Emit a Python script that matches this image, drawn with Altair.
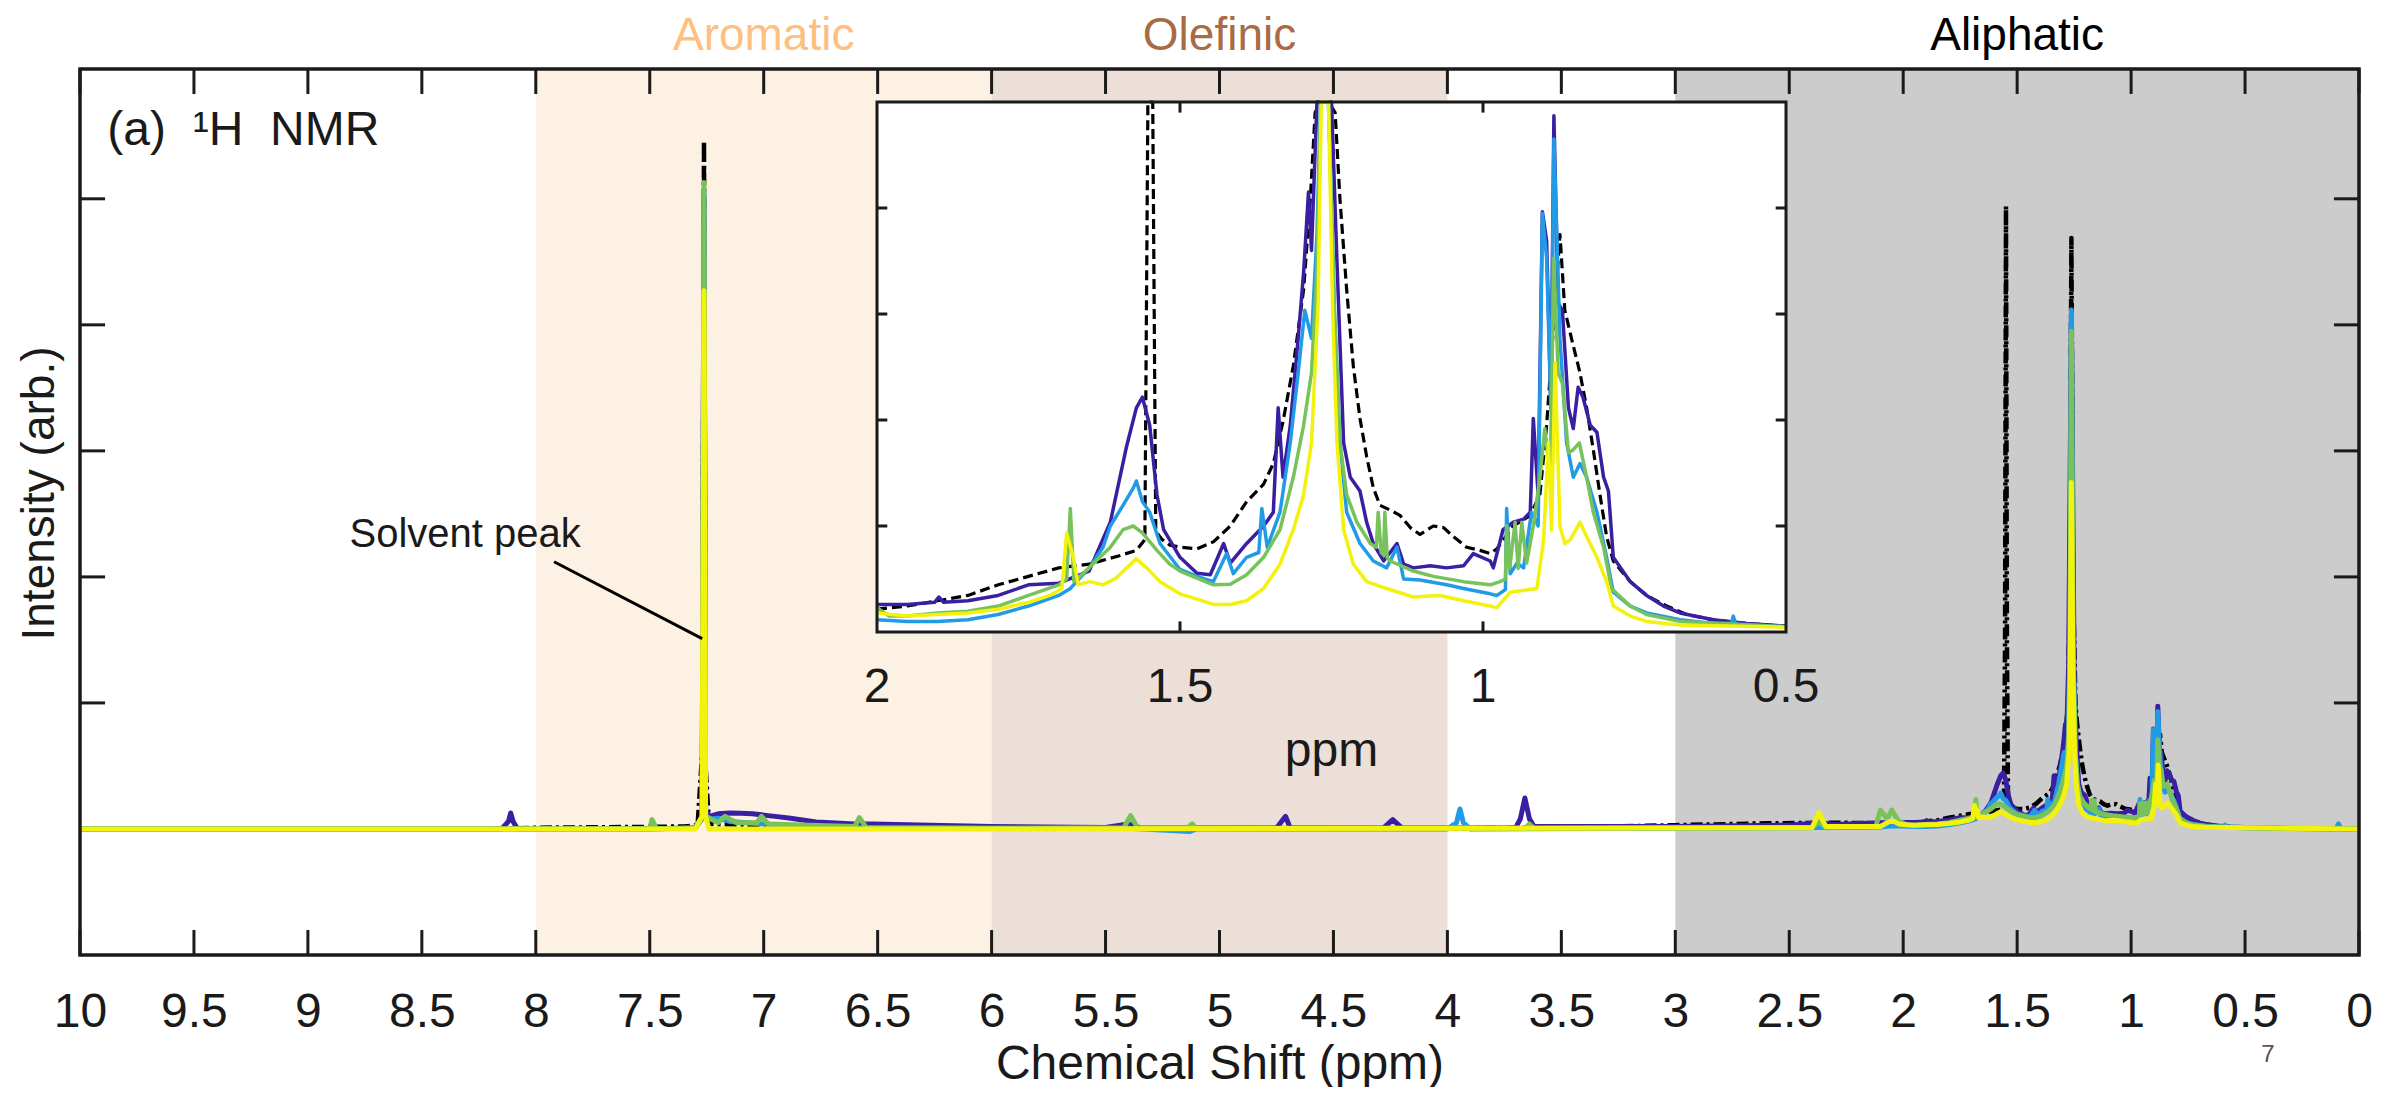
import altair as alt
import pandas as pd

FONT = "Liberation Sans"

# ---------------- data (ppm, intensity) ----------------
SERIES_NAMES = ["black", "purple", "blue", "green", "yellow"]
SERIES_COLORS = ["#000000", "#3B1FA3", "#229BE6", "#77C25A", "#F2F20C"]

BLACK = [(10.0,0.0),(8.2,0.0),(8.0,0.01),(7.6,0.015),(7.35,0.02),(7.29,0.03),(7.27,0.6),(7.262,5.46),(7.255,0.5),
 (7.24,0.04),(7.0,0.03),(6.5,0.01),(6.0,0.005),(5.0,0.003),(4.0,0.005),(3.5,0.012),(3.0,0.03),(2.6,0.045),(2.3,0.05),
 (2.0,0.043),(1.95,0.049),(1.90,0.059),(1.85,0.069),(1.80,0.089),(1.75,0.105),(1.70,0.121),(1.65,0.128),(1.60,0.144),
 (1.572,0.154),(1.558,0.174),(1.553,1.5),(1.549,4.94),(1.545,1.5),(1.540,0.19),(1.53,0.175),(1.517,0.164),(1.50,0.16),
 (1.472,0.157),(1.445,0.17),(1.417,0.2),(1.39,0.246),(1.362,0.279),(1.346,0.318),(1.33,0.397),(1.313,0.502),(1.296,0.646),
 (1.285,0.816),(1.277,0.98),(1.268,2.0),(1.262,4.69),(1.255,2.0),(1.244,0.98),(1.236,0.816),(1.225,0.646),(1.214,0.502),
 (1.203,0.403),(1.192,0.331),(1.181,0.272),(1.17,0.239),(1.153,0.23),(1.137,0.22),(1.12,0.197),(1.104,0.184),(1.082,0.2),
 (1.065,0.197),(1.049,0.18),(1.027,0.16),(1.005,0.154),(0.988,0.148),(0.977,0.157),(0.95,0.2),(0.922,0.22),(0.906,0.26),
 (0.895,0.39),(0.881,0.62),(0.873,0.75),(0.865,0.607),(0.854,0.554),(0.84,0.489),(0.829,0.423),(0.818,0.344),(0.807,0.259),
 (0.796,0.18),(0.785,0.134),(0.757,0.095),(0.73,0.069),(0.697,0.049),(0.664,0.033),(0.62,0.023),(0.565,0.016),(0.5,0.011),
 (0.3,0.005),(0.0,0.0)]

PURPLE = [(10.0,0.0),(8.15,0.0),(8.12,0.06),(8.11,0.127),(8.10,0.06),(8.08,0.0),(7.5,0.0),(7.3,0.01),(7.27,0.1),(7.262,5.0),
 (7.255,0.15),(7.24,0.1),(7.2,0.12),(7.15,0.127),(7.1,0.125),(7.05,0.12),(6.95,0.1),(6.89,0.087),(6.77,0.056),(6.6,0.04),
 (6.52,0.04),(6.27,0.03),(6.0,0.02),(5.5,0.012),(5.4,0.04),(5.35,0.01),(4.75,0.008),(4.71,0.1),(4.69,0.008),(4.28,0.008),
 (4.24,0.074),(4.2,0.008),(3.7,0.01),(3.68,0.08),(3.66,0.246),(3.64,0.08),(3.62,0.02),(3.0,0.02),(2.5,0.03),(2.37,0.05),
 (2.3,0.035),(2.1,0.05),(2.05,0.05),
 (2.0,0.052),(1.95,0.052),(1.905,0.056),(1.898,0.066),(1.89,0.056),(1.85,0.059),(1.80,0.069),(1.75,0.089),(1.70,0.092),
 (1.65,0.115),(1.615,0.207),(1.588,0.351),(1.572,0.423),(1.562,0.443),(1.55,0.39),(1.538,0.259),(1.527,0.193),(1.50,0.141),
 (1.472,0.111),(1.45,0.108),(1.428,0.167),(1.417,0.13),(1.39,0.167),(1.362,0.2),(1.346,0.226),(1.338,0.423),(1.33,0.292),
 (1.318,0.39),(1.305,0.554),(1.296,0.679),(1.288,0.83),(1.283,0.72),(1.274,1.3),(1.262,4.05),(1.25,1.2),(1.241,0.7),
 (1.23,0.357),(1.219,0.292),(1.203,0.266),(1.192,0.207),(1.181,0.167),(1.164,0.134),(1.142,0.167),(1.131,0.128),(1.115,0.121),
 (1.087,0.125),(1.06,0.121),(1.032,0.125),(1.016,0.148),(0.988,0.134),(0.983,0.121),(0.967,0.193),(0.95,0.207),(0.933,0.213),
 (0.922,0.226),(0.917,0.403),(0.909,0.259),(0.902,0.793),(0.895,0.738),(0.888,0.423),(0.883,0.974),(0.876,0.62),(0.869,0.607),
 (0.859,0.423),(0.851,0.384),(0.843,0.462),(0.835,0.443),(0.823,0.39),(0.812,0.377),(0.801,0.292),(0.793,0.266),(0.785,0.141),
 (0.757,0.095),(0.73,0.069),(0.702,0.049),(0.675,0.036),(0.62,0.023),(0.565,0.016),(0.5,0.011),(0.3,0.004),(0.0,0.0)]

BLUE = [(10.0,0.0),(8.0,0.0),(7.3,0.005),(7.27,0.08),(7.262,5.05),(7.255,0.1),(7.23,0.08),(7.2,0.085),(7.15,0.06),(7.0,0.04),
 (6.8,0.02),(6.5,0.01),(6.0,0.005),(5.4,0.005),(5.13,-0.02),(5.1,0.0),(4.0,0.0),(3.96,0.05),(3.945,0.159),(3.93,0.05),
 (3.9,0.0),(3.0,0.005),(2.5,0.01),(2.1,0.015),(2.05,0.025),
 (2.0,0.023),(1.95,0.02),(1.90,0.02),(1.85,0.023),(1.80,0.033),(1.75,0.049),(1.70,0.069),(1.681,0.082),(1.65,0.121),
 (1.627,0.16),(1.615,0.2),(1.594,0.239),(1.577,0.272),(1.572,0.285),(1.562,0.246),(1.55,0.226),(1.533,0.167),(1.50,0.118),
 (1.472,0.105),(1.445,0.095),(1.423,0.148),(1.412,0.11),(1.39,0.141),(1.37,0.15),(1.365,0.233),(1.356,0.16),(1.335,0.226),
 (1.318,0.357),(1.305,0.489),(1.294,0.607),(1.283,0.554),(1.274,0.75),(1.268,1.5),(1.262,4.12),(1.255,1.5),(1.245,0.6),
 (1.236,0.357),(1.225,0.226),(1.203,0.167),(1.181,0.134),(1.159,0.121),(1.142,0.16),(1.131,0.1),(1.104,0.098),(1.06,0.089),
 (1.032,0.082),(0.988,0.072),(0.977,0.069),(0.963,0.08),(0.961,0.233),(0.955,0.11),(0.944,0.13),(0.933,0.121),(0.92,0.226),
 (0.909,0.2),(0.902,0.79),(0.895,0.705),(0.888,0.42),(0.883,0.93),(0.873,0.554),(0.862,0.357),(0.851,0.292),(0.84,0.318),
 (0.829,0.292),(0.812,0.226),(0.796,0.141),(0.785,0.075),(0.757,0.049),(0.73,0.036),(0.675,0.023),(0.62,0.016),(0.59,0.017),
 (0.587,0.03),(0.583,0.015),(0.5,0.01),(0.3,0.004),(0.1,0.003),(0.09,0.04),(0.08,0.003),(0.0,0.0)]

GREEN = [(10.0,0.0),(7.5,0.0),(7.49,0.074),(7.47,0.0),(7.3,0.01),(7.27,0.1),(7.262,5.13),(7.255,0.1),(7.2,0.05),(7.17,0.1),
 (7.12,0.05),(7.03,0.05),(7.01,0.1),(6.98,0.04),(6.8,0.03),(6.6,0.02),(6.58,0.09),(6.55,0.01),(6.0,0.005),(5.42,0.01),
 (5.39,0.106),(5.36,0.01),(5.14,0.01),(5.12,0.04),(5.1,0.005),(3.66,0.005),(3.64,0.04),(3.62,0.005),(2.4,0.01),(2.37,0.06),
 (2.34,0.01),(2.12,0.02),(2.10,0.15),(2.07,0.08),(2.05,0.15),(2.02,0.06),
 (2.0,0.046),(1.98,0.03),(1.95,0.03),(1.90,0.036),(1.85,0.039),(1.80,0.049),(1.75,0.069),(1.70,0.089),(1.687,0.1),(1.681,0.233),
 (1.675,0.095),(1.65,0.121),(1.615,0.16),(1.594,0.193),(1.577,0.2),(1.562,0.187),(1.538,0.154),(1.517,0.128),(1.5,0.115),
 (1.445,0.089),(1.417,0.09),(1.39,0.108),(1.362,0.141),(1.335,0.193),(1.313,0.292),(1.296,0.39),(1.283,0.489),(1.274,0.685),
 (1.268,1.5),(1.262,3.95),(1.255,1.4),(1.245,0.6),(1.236,0.357),(1.225,0.259),(1.208,0.207),(1.186,0.167),(1.176,0.16),
 (1.173,0.226),(1.168,0.15),(1.164,0.145),(1.162,0.226),(1.158,0.14),(1.153,0.134),(1.115,0.115),(1.082,0.105),(1.032,0.095),
 (0.988,0.089),(0.972,0.095),(0.963,0.1),(0.961,0.2),(0.956,0.12),(0.947,0.207),(0.942,0.12),(0.936,0.207),(0.928,0.13),
 (0.917,0.2),(0.906,0.292),(0.898,0.384),(0.889,0.292),(0.883,0.705),(0.876,0.489),(0.869,0.469),(0.859,0.338),(0.851,0.344),
 (0.841,0.357),(0.829,0.292),(0.818,0.226),(0.801,0.16),(0.788,0.082),(0.757,0.049),(0.73,0.033),(0.675,0.02),(0.5,0.01),
 (0.0,0.0)]

YELLOW = [(10.0,0.0),(7.3,0.0),(7.27,0.1),(7.262,4.27),(7.255,0.1),(7.24,0.0),(6.0,0.0),(2.4,0.01),(2.37,0.13),(2.34,0.02),
 (2.1,0.02),(2.06,0.06),(2.04,0.06),(2.02,0.04),
 (2.0,0.036),(1.95,0.03),(1.90,0.033),(1.85,0.036),(1.80,0.043),(1.75,0.056),(1.715,0.069),(1.695,0.082),(1.687,0.187),
 (1.676,0.141),(1.668,0.089),(1.649,0.095),(1.627,0.089),(1.605,0.102),(1.588,0.121),(1.572,0.138),(1.555,0.121),(1.533,0.095),
 (1.5,0.072),(1.472,0.062),(1.445,0.052),(1.417,0.052),(1.39,0.059),(1.362,0.082),(1.335,0.128),(1.313,0.193),(1.296,0.259),
 (1.283,0.357),(1.272,0.62),(1.267,1.2),(1.262,2.75),(1.255,1.2),(1.248,0.6),(1.241,0.357),(1.23,0.193),(1.214,0.128),
 (1.192,0.095),(1.159,0.082),(1.115,0.066),(1.071,0.069),(1.032,0.059),(0.988,0.049),(0.977,0.046),(0.955,0.075),(0.911,0.082),
 (0.9,0.174),(0.892,0.357),(0.887,0.193),(0.881,0.508),(0.873,0.2),(0.865,0.167),(0.856,0.174),(0.84,0.207),(0.829,0.18),
 (0.812,0.141),(0.796,0.095),(0.785,0.049),(0.757,0.03),(0.73,0.02),(0.675,0.013),(0.5,0.009),(0.0,0.0)]

SERIES_DATA = [BLACK, PURPLE, BLUE, GREEN, YELLOW]

REGION_NAMES = ["Aromatic", "Olefinic", "Aliphatic"]
REGION_START = [8.0, 6.0, 3.0]
REGION_END = [6.0, 4.0, 0.0]
REGION_FILL = ["#FDF1E4", "#EBDFD7", "#CCCCCC"]
REGION_TEXT = ["#FDC07E", "#A86B43", "#000000"]

X_TICKS = [10, 9.5, 9, 8.5, 8, 7.5, 7, 6.5, 6, 5.5, 5, 4.5, 4, 3.5, 3, 2.5, 2, 1.5, 1, 0.5, 0]
Y_TICKS = [1, 2, 3, 4, 5]
X_DOMAIN = [0, 10]
Y_DOMAIN = [-1, 6.03]

INSET_X_DOMAIN = [0.5, 2.0]
INSET_Y_DOMAIN = [0.0, 1.0]
INSET_X_LABELS = [2, 1.5, 1, 0.5]
INSET_X_TICKS = [1.5, 1.0]
INSET_Y_TICKS = [0.2, 0.4, 0.6, 0.8]

SOLVENT_TEXT = (8.31, 2.33)
SOLVENT_LINE = (7.92, 2.12, 7.27, 1.51)
PANEL_LABEL = (9.88, 5.54)

# ---------------- layout ----------------
W, H = 2279, 886
INSET_RANGE_X = [1706, 797]
INSET_RANGE_Y = [563, 33]
TICK_Y = 0.198   # main tick length in intensity units
TICK_X = 0.11    # main tick length in ppm
ITICK_Y = 0.02
ITICK_X = 0.017
INK = "#1a1a1a"

rows = []
for name, pts in zip(SERIES_NAMES, SERIES_DATA):
    for p, v in pts:
        rows.append({"series": name, "ppm": p, "intensity": v})
df = pd.DataFrame(rows)

XS = alt.Scale(domain=X_DOMAIN, reverse=True, nice=False, zero=False)
YS = alt.Scale(domain=Y_DOMAIN, nice=False, zero=False)

X_AXIS = alt.Axis(orient="bottom", values=X_TICKS, format="~g", ticks=False, tickSize=0, domain=False, grid=False,
                  labelFont=FONT, labelFontSize=48, labelColor=INK, labelPadding=33, labelFlush=False,
                  labelOverlap=False,
                  title="Chemical Shift (ppm)", titleFont=FONT, titleFontSize=48, titleFontWeight="normal",
                  titleColor=INK, titlePadding=4)
Y_AXIS = alt.Axis(orient="left", labels=False, ticks=False, tickSize=0, domain=False, grid=False,
                  title="Intensity (arb.)", titleFont=FONT, titleFontSize=46, titleFontWeight="normal",
                  titleColor=INK, titlePadding=17, titleY=424)

def xq(field="ppm"):
    return alt.X(f"{field}:Q", scale=XS, axis=None)

def yq(field="intensity"):
    return alt.Y(f"{field}:Q", scale=YS, axis=None)

# bands
reg_df = pd.DataFrame({"name": REGION_NAMES, "start": REGION_START, "end": REGION_END})
bands = alt.Chart(reg_df).mark_rect().encode(
    x=xq("start"), x2="end", y=alt.value(0), y2=alt.value(H),
    fill=alt.Fill("name:N", scale=alt.Scale(domain=REGION_NAMES, range=REGION_FILL), legend=None))
region_labels = alt.Chart(reg_df).transform_calculate(mid="(datum.start + datum.end) / 2").mark_text(
    font=FONT, fontSize=46, baseline="alphabetic", align="center").encode(
    x=xq("mid"), y=alt.value(-19), text="name:N",
    color=alt.Color("name:N", scale=alt.Scale(domain=REGION_NAMES, range=REGION_TEXT), legend=None))

def main_line(name, color, first=False):
    kw = dict(color=color, strokeWidth=5, strokeJoin="round")
    if name == "black":
        kw.update(strokeDash=[12, 4, 3, 4], strokeWidth=4.5)
    ch = alt.Chart(df).transform_filter(alt.datum.series == name).mark_line(**kw)
    if first:
        return ch.encode(x=alt.X("ppm:Q", scale=XS, axis=X_AXIS), y=alt.Y("intensity:Q", scale=YS, axis=Y_AXIS))
    return ch.encode(x=xq(), y=yq())

main_lines = [main_line(n, c, first=(i == 0)) for i, (n, c) in enumerate(zip(SERIES_NAMES, SERIES_COLORS))]

# main ticks (inward, all four sides)
xt = pd.DataFrame({"ppm": X_TICKS})
yt = pd.DataFrame({"intensity": Y_TICKS})
tick_style = dict(color=INK, strokeWidth=3)
bottom_ticks = alt.Chart(xt).transform_calculate(lo=str(Y_DOMAIN[0]), hi=f"{Y_DOMAIN[0]} + {TICK_Y}").mark_rule(**tick_style).encode(
    x=xq(), y=yq("lo"), y2="hi:Q")
top_ticks = alt.Chart(xt).transform_calculate(lo=str(Y_DOMAIN[1]), hi=f"{Y_DOMAIN[1]} - {TICK_Y}").mark_rule(**tick_style).encode(
    x=xq(), y=yq("lo"), y2="hi:Q")
left_ticks = alt.Chart(yt).transform_calculate(a=str(X_DOMAIN[1]), b=f"{X_DOMAIN[1]} - {TICK_X}").mark_rule(**tick_style).encode(
    y=yq(), x=xq("a"), x2="b:Q")
right_ticks = alt.Chart(yt).transform_calculate(a=str(X_DOMAIN[0]), b=f"{X_DOMAIN[0]} + {TICK_X}").mark_rule(**tick_style).encode(
    y=yq(), x=xq("a"), x2="b:Q")

frame_df = pd.DataFrame({"ppm": [X_DOMAIN[1]], "ppm2": [X_DOMAIN[0]],
                         "intensity": [Y_DOMAIN[0]], "intensity2": [Y_DOMAIN[1]]})
main_frame = alt.Chart(frame_df).mark_rect(fill=None, stroke=INK, strokeWidth=3.5).encode(
    x=xq(), x2="ppm2:Q", y=yq(), y2="intensity2:Q")

# annotations
ann_df = pd.DataFrame({"ppm": [SOLVENT_TEXT[0]], "intensity": [SOLVENT_TEXT[1]], "t": ["Solvent peak"]})
solvent_text = alt.Chart(ann_df).mark_text(font=FONT, fontSize=40, color=INK, align="center", baseline="middle").encode(
    x=xq(), y=yq(), text="t:N")
line_df = pd.DataFrame({"ppm": [SOLVENT_LINE[0]], "intensity": [SOLVENT_LINE[1]],
                        "ppm2": [SOLVENT_LINE[2]], "intensity2": [SOLVENT_LINE[3]]})
solvent_line = alt.Chart(line_df).mark_rule(color="#000000", strokeWidth=3).encode(
    x=xq(), y=yq(), x2="ppm2:Q", y2="intensity2:Q")
panel_df = pd.DataFrame({"ppm": [PANEL_LABEL[0]], "intensity": [PANEL_LABEL[1]],
                         "t": ["(a)\u00a0 \u00b9H\u00a0 NMR"]})
panel_text = alt.Chart(panel_df).mark_text(font=FONT, fontSize=48, color=INK, align="left", baseline="middle").encode(
    x=xq(), y=yq(), text="t:N")
page_df = pd.DataFrame({"ppm": [0.40], "t": ["7"]})
page_text = alt.Chart(page_df).mark_text(font=FONT, fontSize=24, color="#555555", align="center", baseline="middle").encode(
    x=xq(), y=alt.value(986), text="t:N")

# ---------------- inset ----------------
IXS = alt.Scale(domain=INSET_X_DOMAIN, range=INSET_RANGE_X, nice=False, zero=False)
IYS = alt.Scale(domain=INSET_Y_DOMAIN, range=INSET_RANGE_Y, nice=False, zero=False, clamp=True)

def ixq(field="ppm"):
    return alt.X(f"{field}:Q", scale=IXS, axis=None)

def iyq(field="intensity"):
    return alt.Y(f"{field}:Q", scale=IYS, axis=None)

box_df = pd.DataFrame({"ppm": [INSET_X_DOMAIN[1]], "ppm2": [INSET_X_DOMAIN[0]],
                       "intensity": [INSET_Y_DOMAIN[0]], "intensity2": [INSET_Y_DOMAIN[1]]})
inset_bg = alt.Chart(box_df).mark_rect(fill="white").encode(x=ixq(), x2="ppm2:Q", y=iyq(), y2="intensity2:Q")
inset_frame = alt.Chart(box_df).mark_rect(fill=None, stroke=INK, strokeWidth=3).encode(
    x=ixq(), x2="ppm2:Q", y=iyq(), y2="intensity2:Q")

def inset_line(name, color):
    kw = dict(color=color, strokeWidth=3.5, strokeJoin="round")
    if name == "black":
        kw.update(strokeDash=[10, 5], strokeWidth=3.2)
    return alt.Chart(df).transform_filter(
        (alt.datum.series == name) & (alt.datum.ppm >= INSET_X_DOMAIN[0]) & (alt.datum.ppm <= INSET_X_DOMAIN[1])
    ).mark_line(**kw).encode(x=ixq(), y=iyq())

inset_lines = [inset_line(n, c) for n, c in zip(SERIES_NAMES, SERIES_COLORS)]

ixt = pd.DataFrame({"ppm": INSET_X_TICKS})
iyt = pd.DataFrame({"intensity": INSET_Y_TICKS})
itick = dict(color=INK, strokeWidth=3)
i_bottom = alt.Chart(ixt).transform_calculate(lo=str(INSET_Y_DOMAIN[0]), hi=f"{INSET_Y_DOMAIN[0]} + {ITICK_Y}").mark_rule(**itick).encode(
    x=ixq(), y=iyq("lo"), y2="hi:Q")
i_top = alt.Chart(ixt).transform_calculate(lo=str(INSET_Y_DOMAIN[1]), hi=f"{INSET_Y_DOMAIN[1]} - {ITICK_Y}").mark_rule(**itick).encode(
    x=ixq(), y=iyq("lo"), y2="hi:Q")
i_left = alt.Chart(iyt).transform_calculate(a=str(INSET_X_DOMAIN[1]), b=f"{INSET_X_DOMAIN[1]} - {ITICK_X}").mark_rule(**itick).encode(
    y=iyq(), x=ixq("a"), x2="b:Q")
i_right = alt.Chart(iyt).transform_calculate(a=str(INSET_X_DOMAIN[0]), b=f"{INSET_X_DOMAIN[0]} + {ITICK_X}").mark_rule(**itick).encode(
    y=iyq(), x=ixq("a"), x2="b:Q")

ilab_df = pd.DataFrame({"ppm": INSET_X_LABELS, "t": [f"{v:g}" for v in INSET_X_LABELS]})
i_labels = alt.Chart(ilab_df).mark_text(font=FONT, fontSize=48, color=INK, align="center", baseline="middle").encode(
    x=ixq(), y=alt.value(619), text="t:N")
ippm_df = pd.DataFrame({"ppm": [1.25], "t": ["ppm"]})
i_ppm = alt.Chart(ippm_df).mark_text(font=FONT, fontSize=48, color=INK, align="center", baseline="middle").encode(
    x=ixq(), y=alt.value(683), text="t:N")

chart = alt.layer(
    bands, region_labels, *main_lines, bottom_ticks, top_ticks, left_ticks, right_ticks,
    solvent_line, solvent_text, panel_text, page_text,
    inset_bg, *inset_lines, inset_frame, i_bottom, i_top, i_left, i_right, i_labels, i_ppm,
    main_frame,
).resolve_scale(x="independent", y="independent").properties(
    width=W, height=H,
    padding={"left": 72, "top": 61, "right": 22, "bottom": 132},
    autosize=alt.AutoSizeParams(type="none"),
).configure_view(stroke=None).configure(font=FONT)

chart.save("out.html", embed_options={"renderer": "svg", "actions": False})
